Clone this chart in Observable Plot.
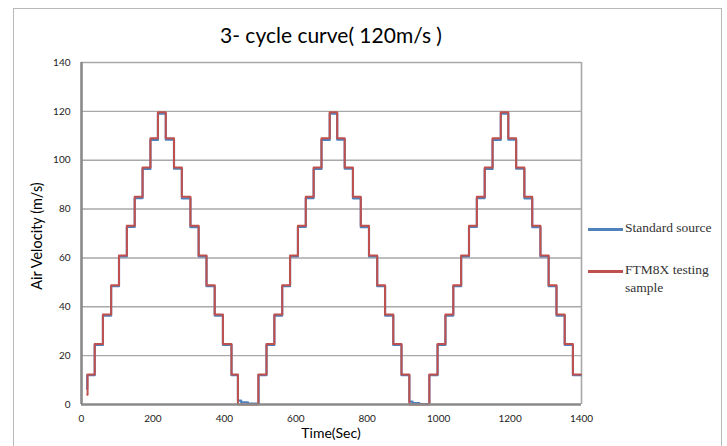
<!DOCTYPE html>
<html>
<head>
<meta charset="utf-8">
<script src="https://cdn.jsdelivr.net/npm/d3@7"></script>
<script src="https://cdn.jsdelivr.net/npm/@observablehq/plot@0.6"></script>
<style>
  body { margin: 0; background: #fff; }
  #wrap { position: relative; width: 727px; height: 446px; overflow: hidden; background: #fff; }
  #frame { position: absolute; left: 13px; top: 8px; width: 709px; height: 460px; border: 1px solid #b8b8b8; box-sizing: border-box; }
  #chart { position: absolute; left: 0; top: 0; }
  .title { position: absolute; left: 81px; width: 500px; top: 22px; text-align: center; font-family: Lato, "Open Sans", sans-serif; font-size: 21px; color: #000; }
  .xlabel { position: absolute; left: 81px; width: 500px; top: 424px; text-align: center; font-family: Lato, "Open Sans", sans-serif; font-size: 14px; color: #000; }
  .ylabel { position: absolute; left: 36px; top: 236px; transform: translate(-50%, -50%) rotate(-90deg); white-space: nowrap; font-family: Lato, "Open Sans", sans-serif; font-size: 14.5px; color: #000; }
  .legend { position: absolute; left: 588px; font-family: "Liberation Serif", "DejaVu Serif", serif; font-size: 13.5px; color: #333; line-height: 18px; }
  .legend .sw { position: absolute; left: 0; width: 35px; height: 2.5px; }
  .legend .tx { position: absolute; left: 37px; white-space: nowrap; }
</style>
</head>
<body>
<div id="wrap">
  <div id="frame"></div>
  <div id="chart"></div>
  <div class="title">3- cycle curve( 120m/s )</div>
  <div class="xlabel">Time(Sec)</div>
  <div class="ylabel">Air Velocity (m/s)</div>
  <div id="legend"></div>
</div>
<script>
// ---- data ----
const seriesNames = ["Standard source", "FTM8X testing sample"];
const seriesColors = ["#4F81BD", "#C0504D"];

const xTicks = [0, 200, 400, 600, 800, 1000, 1200, 1400];
const yTicks = [0, 20, 40, 60, 80, 100, 120, 140];

// FTM8X testing sample (red), step changes: time (s) and new value (m/s)
const redTimes = [16, 17, 37, 60, 83, 105, 127, 149, 171, 193, 214,
  236, 259, 281, 305, 328, 350, 373, 396, 420, 438,
  495, 518, 540, 562, 584, 606, 628, 650, 672, 695,
  716, 737, 760, 782, 805, 828, 850, 873, 896, 918,
  974, 997, 1019, 1041, 1063, 1085, 1107, 1129, 1151, 1174,
  1195, 1217, 1240, 1262, 1285, 1308, 1330, 1353, 1376, 1398];
const redValues = [4, 12.3, 24.8, 36.8, 48.8, 61, 73.2, 85, 97, 109, 119.6,
  109, 97, 85, 73.2, 61, 48.8, 36.8, 24.8, 12.3, 0,
  12.3, 24.8, 36.8, 48.8, 61, 73.2, 85, 97, 109, 119.6,
  109, 97, 85, 73.2, 61, 48.8, 36.8, 24.8, 12.3, 0,
  12.3, 24.8, 36.8, 48.8, 61, 73.2, 85, 97, 109, 119.6,
  109, 97, 85, 73.2, 61, 48.8, 36.8, 24.8, 12.3, 12.3];

// Standard source (blue)
const blueTimes = [15, 16, 37, 60, 83, 105, 127, 149, 171, 193, 214,
  236, 259, 281, 305, 328, 350, 373, 396, 420, 438, 447, 466,
  496, 518, 540, 562, 584, 606, 628, 650, 672, 695,
  716, 737, 760, 782, 805, 828, 850, 873, 896, 918, 927, 946,
  974, 997, 1019, 1041, 1063, 1085, 1107, 1129, 1151, 1174,
  1195, 1217, 1240, 1262, 1285, 1308, 1330, 1353, 1376, 1398];
const blueValues = [6.5, 12, 24.4, 36.4, 48.4, 60.6, 72.7, 84.5, 96.4, 108.3, 119.1,
  108.4, 96.5, 84.4, 72.6, 60.6, 48.4, 36.4, 24.4, 12, 1.6, 0.9, 0.4,
  12, 24.4, 36.4, 48.4, 60.6, 72.7, 84.5, 96.4, 108.3, 119.1,
  108.4, 96.5, 84.4, 72.6, 60.6, 48.4, 36.4, 24.4, 12, 1.2, 0.6, 0.2,
  12, 24.4, 36.4, 48.4, 60.6, 72.7, 84.5, 96.4, 108.3, 119.1,
  108.4, 96.5, 84.4, 72.6, 60.6, 48.4, 36.4, 24.4, 12, 12];

const blue = blueTimes.map((t, i) => ({t, v: blueValues[i]}));
const red = redTimes.map((t, i) => ({t, v: redValues[i]}));

const plot = Plot.plot({
  width: 727,
  height: 446,
  marginLeft: 81,
  marginRight: 146,
  marginTop: 62,
  marginBottom: 42,
  style: { fontFamily: "Lato, 'Open Sans', sans-serif", fontSize: "10px", color: "#222", background: "transparent" },
  x: { domain: [0, 1400], label: null },
  y: { domain: [0, 140], label: null },
  marks: [
    Plot.ruleY(yTicks.filter(d => d > 0), { stroke: "#a8a8a8", strokeWidth: 1.4 }),
    Plot.ruleX([1400], { stroke: "#a8a8a8", strokeWidth: 1.6 }),
    Plot.lineY(blue, { x: "t", y: "v", curve: "step-after", stroke: seriesColors[0], strokeWidth: 2.2 }),
    Plot.lineY(red, { x: "t", y: "v", curve: "step-after", stroke: seriesColors[1], strokeWidth: 2 }),
    Plot.ruleX([0], { stroke: "#8a8a8a", strokeWidth: 2.6 }),
    Plot.ruleY([0], { stroke: "#8a8a8a", strokeWidth: 2.6 }),
    Plot.axisX({ ticks: xTicks, tickSize: 0, tickPadding: 10, tickFormat: d => String(d) }),
    Plot.axisY({ ticks: yTicks, tickSize: 0, tickPadding: 11, tickFormat: d => String(d) })
  ]
});
document.getElementById("chart").appendChild(plot);

// legend
const legend = document.getElementById("legend");
const legendRows = [{y: 229, lines: ["Standard source"]}, {y: 271, lines: ["FTM8X testing", "sample"]}];
seriesNames.forEach((name, i) => {
  const row = document.createElement("div");
  row.className = "legend";
  row.style.top = legendRows[i].y + "px";
  const sw = document.createElement("div");
  sw.className = "sw";
  sw.style.background = seriesColors[i];
  sw.style.top = "-1px";
  row.appendChild(sw);
  const tx = document.createElement("div");
  tx.className = "tx";
  tx.style.top = "-10px";
  tx.innerHTML = legendRows[i].lines.join("<br>");
  row.appendChild(tx);
  legend.appendChild(row);
});
</script>
</body>
</html>
